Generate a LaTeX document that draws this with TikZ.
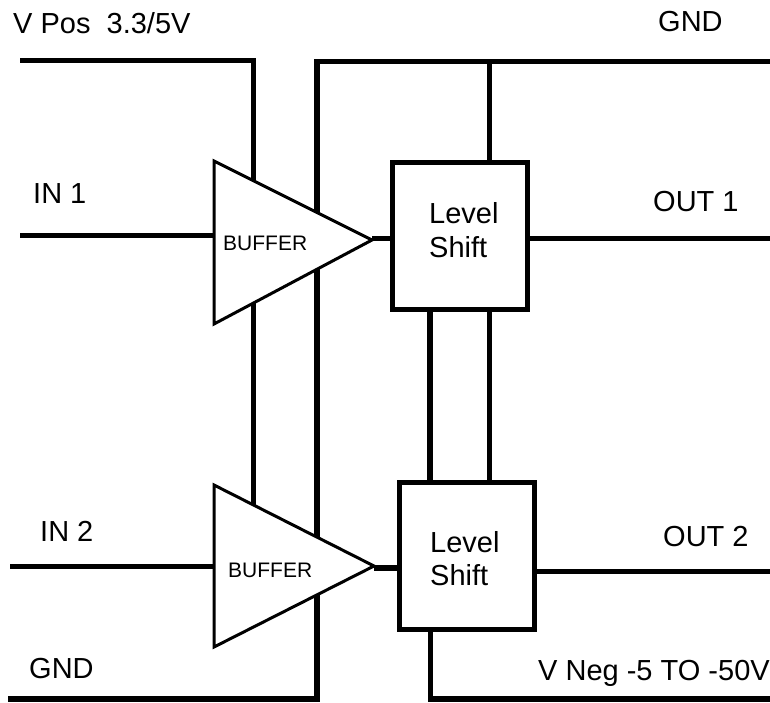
\documentclass[tikz,border=0pt]{standalone}
\usepackage{fontspec}
\setmainfont{Liberation Sans}
\begin{document}
\begin{tikzpicture}[x=1pt,y=-1pt,
  wire/.style={line width=5.5pt},
  bufshape/.style={draw, line width=3pt, fill=white, line join=miter},
  lsbox/.style={draw, line width=5pt, fill=white, minimum width=135pt, minimum height=147pt, inner sep=0pt},
  lbl/.style={font=\fontsize{29}{33.4}\selectfont, inner sep=0pt, anchor=base west},
  buflbl/.style={font=\fontsize{21}{24}\selectfont, inner sep=0pt, anchor=base west},
  lstext/.style={font=\fontsize{29}{34}\selectfont, inner sep=0pt, anchor=base west, align=left}]
\useasboundingbox (0,0) rectangle (770,702);
% coordinates
\coordinate (vposL) at (20,60.3);
\coordinate (vposC) at (253.7,60.3);
\coordinate (vposE) at (253.7,540);
\coordinate (gndTR) at (770,61.3);
\coordinate (gndTC) at (317,61.3);
\coordinate (gndBC) at (317,699);
\coordinate (gndBL) at (8,699);
\coordinate (in1L) at (20,235.5);
\coordinate (in2L) at (10,566.7);
\coordinate (out1R) at (770,238.3);
\coordinate (out2R) at (770,571.3);
\coordinate (vnegC) at (430.3,699);
\coordinate (vnegR) at (770,699);
% buffer triangle vertices
\coordinate (b1t) at (214,161);
\coordinate (b1b) at (214,324);
\coordinate (b1tip) at (372,240);
\coordinate (b2t) at (214,485);
\coordinate (b2b) at (214,647);
\coordinate (b2tip) at (374,566);
% level shift boxes
\node[lsbox] (ls1) at (460,236) {};
\node[lsbox] (ls2) at (467,556) {};
% wires
\draw[wire] (vposL) -- (vposC) -- (vposE);
\draw[wire] (gndTR) -- (gndTC) -- (gndBC) -- (gndBL);
\draw[wire] (ls1.north -| 489.7,0) -- (489.7,61.3);
\draw[wire] (in1L) -- (in1L -| b1t);
\draw[wire] (in2L) -- (in2L -| b2t);
\draw[wire] (b1tip |- 0,238.3) -- (ls1.west |- 0,238.3);
\draw[wire] (b2tip |- 0,568) -- (ls2.west |- 0,568);
\draw[wire] (ls1.east |- out1R) -- (out1R);
\draw[wire] (ls2.east |- out2R) -- (out2R);
\draw[wire] (ls1.south -| 430,0) -- (ls2.north -| 430,0);
\draw[wire] (ls1.south -| 489.7,0) -- (ls2.north -| 489.7,0);
\draw[wire] (ls2.south -| vnegC) -- (vnegC) -- (vnegR);
% buffers
\draw[bufshape] (b1t) -- (b1tip) -- (b1b) -- cycle;
\draw[bufshape] (b2t) -- (b2tip) -- (b2b) -- cycle;
% redraw boxes on top
\node[lsbox] at (ls1) {};
\node[lsbox] at (ls2) {};
% labels
\node[buflbl] (buf1) at (223,250) {BUFFER};
\node[buflbl] (buf2) at (228,577) {BUFFER};
\node[lstext] (ls1a) at (429,223) {Level};
\node[lstext] (ls1b) at (429,257) {Shift};
\node[lstext] (ls2a) at (430,552) {Level};
\node[lstext] (ls2b) at (430,585.5) {Shift};
\node[lbl] (tvpos) at (13,33.3) {V Pos\ \ 3.3/5V};
\node[lbl] (tgnd1) at (658,31.7) {GND};
\node[lbl] (tin1) at (33,203) {IN 1};
\node[lbl] (tout1) at (653,211.7) {OUT 1};
\node[lbl] (tin2) at (40,541.7) {IN 2};
\node[lbl] (tout2) at (663,546.7) {OUT 2};
\node[lbl] (tgnd2) at (29,678) {GND};
\node[lbl] (tvneg) at (538,680) {V Neg -5 TO -50V};
\end{tikzpicture}
\end{document}
